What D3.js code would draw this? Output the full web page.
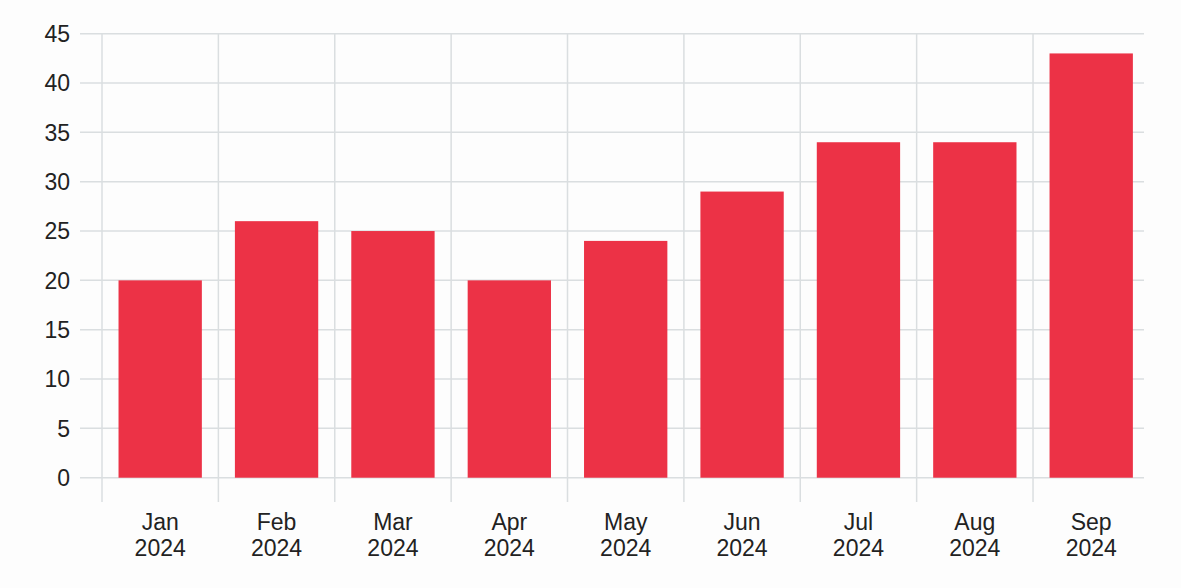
<!DOCTYPE html>
<html>
<head>
<meta charset="utf-8">
<script src="https://cdn.jsdelivr.net/npm/d3@7"></script>
<style>
  html, body { margin: 0; padding: 0; background: #fdfdfd; }
  svg { display: block; }
</style>
</head>
<body>
<svg id="chart" width="1181" height="588"></svg>
<script>
const months = ["Jan", "Feb", "Mar", "Apr", "May", "Jun", "Jul", "Aug", "Sep"];
const years = ["2024", "2024", "2024", "2024", "2024", "2024", "2024", "2024", "2024"];
const values = [20, 26, 25, 20, 24, 29, 34, 34, 43];
const yTicks = [0, 5, 10, 15, 20, 25, 30, 35, 40, 45];

(function () {
const svg = d3.select("#chart");
const plotLeft = 102, plotRight = 1149.4, plotTop = 33.7, plotBottom = 477.7;
const gridColor = "#dadee0";
const textColor = "#222";
const barColor = "#ec3246";
const fontFamily = "'Liberation Sans', Arial, sans-serif";
const fontSize = 23;

const x = d3.scaleBand().domain(months).range([plotLeft, plotRight]).padding(0);
const y = d3.scaleLinear().domain([0, 45]).range([plotBottom, plotTop]);
const barFrac = 0.716;

// horizontal grid
svg.append("g").selectAll("line").data(yTicks).join("line")
  .attr("x1", 80).attr("x2", 1144)
  .attr("y1", d => y(d)).attr("y2", d => y(d))
  .attr("stroke", gridColor).attr("stroke-width", 1.5);

// vertical grid (category boundaries)
svg.append("g").selectAll("line").data(months).join("line")
  .attr("x1", d => x(d)).attr("x2", d => x(d))
  .attr("y1", plotTop).attr("y2", 502)
  .attr("stroke", gridColor).attr("stroke-width", 1.5);

// y labels
svg.append("g").selectAll("text").data(yTicks).join("text")
  .attr("x", 70).attr("y", d => y(d))
  .attr("dy", "0.36em")
  .attr("text-anchor", "end")
  .attr("font-family", fontFamily).attr("font-size", fontSize)
  .attr("fill", textColor)
  .text(d => d);

// bars
svg.append("g").selectAll("rect").data(values).join("rect")
  .attr("x", (d, i) => x(months[i]) + x.bandwidth() * (1 - barFrac) / 2)
  .attr("width", x.bandwidth() * barFrac)
  .attr("y", d => y(d))
  .attr("height", d => y(0) - y(d))
  .attr("fill", barColor);

// x labels
const xl = svg.append("g").selectAll("text").data(months).join("text")
  .attr("x", d => x(d) + x.bandwidth() / 2)
  .attr("y", 530)
  .attr("text-anchor", "middle")
  .attr("font-family", fontFamily).attr("font-size", fontSize)
  .attr("fill", textColor);
xl.append("tspan").attr("x", d => x(d) + x.bandwidth() / 2).text(d => d);
xl.append("tspan").attr("x", d => x(d) + x.bandwidth() / 2).attr("dy", 26).text((d, i) => years[i]);
})();
</script>
</body>
</html>
